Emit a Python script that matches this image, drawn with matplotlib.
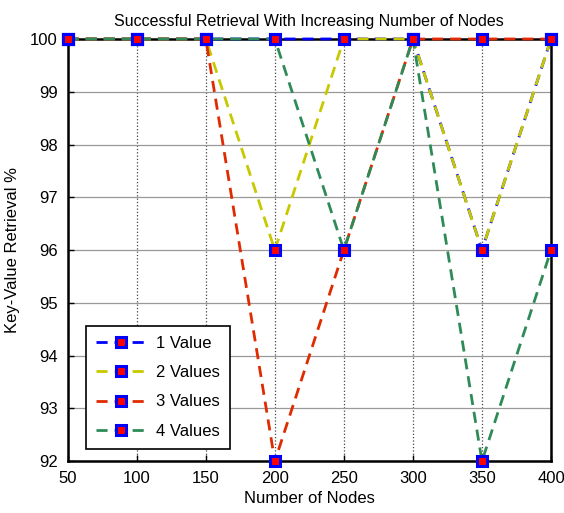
import matplotlib
matplotlib.use("Agg")
import matplotlib.pyplot as plt

nodes = [50, 100, 150, 200, 250, 300, 350, 400]
one_value = [100, 100, 100, 100, 100, 100, 96, 100]
two_values = [100, 100, 100, 96, 100, 100, 96, 100]
three_values = [100, 100, 100, 92, 96, 100, 100, 100]
four_values = [100, 100, 100, 100, 96, 100, 92, 96]

labels = ["1 Value", "2 Values", "3 Values", "4 Values"]
colors = ["#0000ff", "#c8c800", "#e02a00", "#2e8b57"]

plt.rcParams["font.family"] = ["Liberation Sans", "DejaVu Sans"]

fig = plt.figure(figsize=(5.64, 5.13), dpi=100)
ax = fig.add_axes([0.12, 0.101, 0.857, 0.823])

for ys, lab, c in zip([one_value, two_values, three_values, four_values], labels, colors):
    ax.plot(nodes, ys, "--", color=c, lw=2, dashes=(4, 2.5), label=lab,
            marker="s", markersize=7, markerfacecolor="#ff0000",
            markeredgecolor="#0000ff", markeredgewidth=2.2, clip_on=False, zorder=3)

ax.set_xlim(50, 400)
ax.set_ylim(92, 100)
ax.set_xticks(nodes)
ax.set_yticks(range(92, 101))
ax.xaxis.grid(True, color="#444444", linestyle=":", lw=0.9)
ax.yaxis.grid(True, color="#999999", linestyle="-", lw=0.9)
ax.tick_params(direction="in", length=4, labelsize=12, width=1, pad=7)
for s in ax.spines.values():
    s.set_linewidth(1.8)

ax.set_title("Successful Retrieval With Increasing Number of Nodes", fontsize=11.5, pad=9)
ax.set_xlabel("Number of Nodes", fontsize=12, labelpad=4)
ax.set_ylabel("Key-Value Retrieval %", fontsize=12, labelpad=7)

leg = ax.legend(loc="lower left", bbox_to_anchor=(0.02, 0.01), fontsize=12,
                fancybox=False, framealpha=1, edgecolor="black", numpoints=1,
                handlelength=3.0, borderpad=0.6, labelspacing=0.85, handletextpad=0.6)
leg.get_frame().set_linewidth(1.2)

fig.savefig("out.png", dpi=100)
